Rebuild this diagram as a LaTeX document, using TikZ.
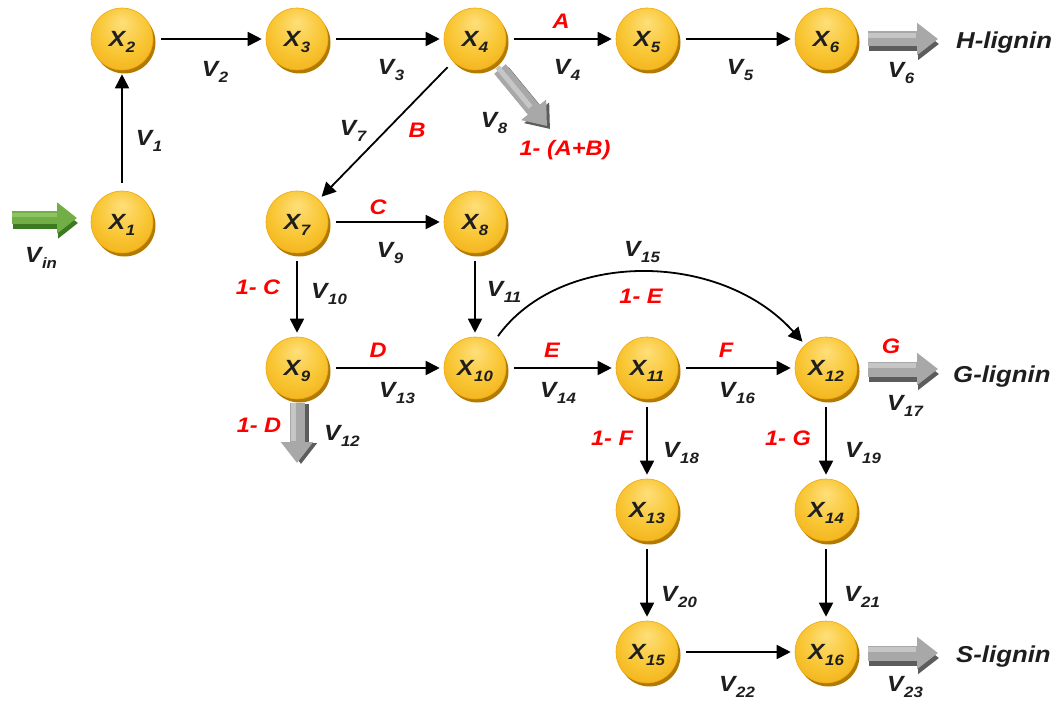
\documentclass[tikz,border=0pt]{standalone}
\usepackage{fontspec}
\usepackage{graphicx}
\setmainfont{Liberation Sans}
\usetikzlibrary{arrows.meta,backgrounds}
\definecolor{txt}{HTML}{1E1E1E}
\definecolor{redl}{HTML}{FF0000}
\definecolor{nlight}{HTML}{FEDF7A}
\definecolor{nmid}{HTML}{F9C634}
\definecolor{ndark}{HTML}{EEA80E}
\definecolor{nrim}{HTML}{B27A02}
\definecolor{glight}{HTML}{A8A8A8}
\definecolor{ghigh}{HTML}{C6C6C6}
\definecolor{gdark}{HTML}{5C5C5C}
\definecolor{grlight}{HTML}{72AE46}
\definecolor{grhigh}{HTML}{8CC461}
\definecolor{grdark}{HTML}{3C7A22}
\pgfdeclareradialshading{nodeball}{\pgfpoint{0bp}{14bp}}{color(0bp)=(nlight); color(20bp)=(nmid); color(40bp)=(ndark); color(50bp)=(ndark)}
\newcommand{\wide}[1]{\scalebox{1.12}[1]{#1}}
\newcommand{\Xl}[1]{\wide{\fontsize{22pt}{22pt}\selectfont X\kern0.5pt\raisebox{-6pt}[0pt][0pt]{\fontsize{15pt}{15pt}\selectfont #1}}}
\newcommand{\Vl}[1]{\wide{\fontsize{22pt}{22pt}\selectfont V\kern0.5pt\raisebox{-6pt}{\fontsize{15pt}{15pt}\selectfont #1}}}
\newcommand{\Rl}[1]{\wide{\fontsize{21pt}{21pt}\selectfont #1}}
\newcommand{\Ol}[1]{\wide{\fontsize{23pt}{23pt}\selectfont #1}}
\tikzset{
  met/.style={circle, minimum size=62pt, inner sep=0pt, shading=nodeball, draw=ndark, line width=0.6pt,
    text=txt, font=\bfseries\itshape},
  rim/.style={fill=nrim},
  conn/.style={draw=black, line width=1.8pt, -{Triangle[length=14pt,width=14pt]}, shorten <=8pt, shorten >=4pt},
  vlab/.style={text=txt, font=\bfseries\itshape, inner sep=0pt},
  rlab/.style={text=redl, font=\bfseries\itshape, inner sep=0pt},
  olab/.style={text=txt, font=\bfseries\itshape, inner sep=0pt, anchor=base west},
  fat/.style={line width=15pt, draw=glight, -{Triangle[length=21pt,width=31pt]}},
  fatshade/.style={line width=15pt, draw=gdark, -{Triangle[length=21pt,width=31pt]}},
  fathigh/.style={line width=5pt, draw=ghigh, shorten >=22pt},
  fatgreen/.style={line width=13pt, draw=grlight, -{Triangle[length=20pt,width=30pt]}},
  fatgreenshade/.style={line width=13pt, draw=grdark, -{Triangle[length=20pt,width=30pt]}},
}
\begin{document}
\begin{tikzpicture}[x=1pt,y=-1pt]
\useasboundingbox (0,0) rectangle (1059,703);
% nodes
\node[met] (X1) at (122,222) {\Xl{1}};
\node[met] (X2) at (122,39) {\Xl{2}};
\node[met] (X3) at (297,39) {\Xl{3}};
\node[met] (X4) at (475,39) {\Xl{4}};
\node[met] (X5) at (647,39) {\Xl{5}};
\node[met] (X6) at (826,39) {\Xl{6}};
\node[met] (X7) at (297,222) {\Xl{7}};
\node[met] (X8) at (475,222) {\Xl{8}};
\node[met] (X9) at (297,368) {\Xl{9}};
\node[met] (X10) at (475,368) {\Xl{10}};
\node[met] (X11) at (647,368) {\Xl{11}};
\node[met] (X12) at (826,368) {\Xl{12}};
\node[met] (X13) at (647,510) {\Xl{13}};
\node[met] (X14) at (826,510) {\Xl{14}};
\node[met] (X15) at (647,652) {\Xl{15}};
\node[met] (X16) at (826,652) {\Xl{16}};
\begin{pgfonlayer}{background}
\fill[white] (0,0) rectangle (1059,703);
\foreach \n in {X1,X2,X3,X4,X5,X6,X7,X8,X9,X10,X11,X12,X13,X14,X15,X16}
  \fill[rim] ([shift={(2.5,3.5)}]\n.center) circle[radius=31pt];
\end{pgfonlayer}
% thin connectors
\draw[conn] (X1) -- (X2);
\draw[conn] (X2) -- (X3);
\draw[conn] (X3) -- (X4);
\draw[conn] (X4) -- (X5);
\draw[conn] (X5) -- (X6);
\draw[conn] (X4) -- (X7);
\draw[conn] (X7) -- (X8);
\draw[conn] (X7) -- (X9);
\draw[conn] (X8) -- (X10);
\draw[conn] (X9) -- (X10);
\draw[conn] (X10) -- (X11);
\draw[conn] (X11) -- (X12);
\draw[conn] (X10) .. controls (560,250) and (720,250) .. (X12);
\draw[conn] (X11) -- (X13);
\draw[conn] (X12) -- (X14);
\draw[conn] (X13) -- (X15);
\draw[conn] (X14) -- (X16);
\draw[conn] (X15) -- (X16);
% fat arrows (free ends)
\coordinate (inS) at (12,218);   \coordinate (inE) at (77,218);
\coordinate (hS) at (868,39);    \coordinate (hE) at (938,39);
\coordinate (gS) at (868,369);   \coordinate (gE) at (938,369);
\coordinate (sS) at (868,653);   \coordinate (sE) at (938,653);
\coordinate (dS) at (297,403);   \coordinate (dE) at (297,463);
\coordinate (aS) at (500,69);    \coordinate (aE) at (547,126);
\draw[fatgreenshade, transform canvas={shift={(1pt,-5pt)}}] (inS) -- (inE);
\draw[fatgreen] (inS) -- (inE);
\draw[line width=4pt, draw=grhigh, shorten >=20pt, transform canvas={shift={(0pt,3pt)}}] (inS) -- (inE);
\foreach \s/\e in {hS/hE, gS/gE, sS/sE}{
  \draw[fatshade, transform canvas={shift={(1pt,-5pt)}}] (\s) -- (\e);
  \draw[fat] (\s) -- (\e);
  \draw[fathigh, transform canvas={shift={(0pt,3.5pt)}}] (\s) -- (\e);
}
\draw[fatshade, transform canvas={shift={(4pt,-1pt)}}] (dS) -- (dE);
\draw[fat] (dS) -- (dE);
\draw[fathigh, transform canvas={shift={(-3.5pt,0pt)}}] (dS) -- (dE);
\draw[fatshade, transform canvas={shift={(3pt,-3pt)}}] (aS) -- (aE);
\draw[fat] (aS) -- (aE);
\draw[fathigh, transform canvas={shift={(-2.5pt,2pt)}}] (aS) -- (aE);
% flux labels
\node[vlab] (lv1) at (149,141) {\Vl{1}};
\node[vlab] (lv2) at (215,72) {\Vl{2}};
\node[vlab] (lv3) at (391,70) {\Vl{3}};
\node[vlab] (lv4) at (567,70) {\Vl{4}};
\node[vlab] (lv5) at (740,70) {\Vl{5}};
\node[vlab] (lv6) at (901,73) {\Vl{6}};
\node[vlab] (lv7) at (353,131) {\Vl{7}};
\node[vlab] (lv8) at (494,123) {\Vl{8}};
\node[vlab] (lv9) at (390,253) {\Vl{9}};
\node[vlab] (lv10) at (329,294) {\Vl{10}};
\node[vlab] (lv11) at (504,292) {\Vl{11}};
\node[vlab] (lv12) at (342,436) {\Vl{12}};
\node[vlab] (lv13) at (397,393) {\Vl{13}};
\node[vlab] (lv14) at (558,393) {\Vl{14}};
\node[vlab] (lv15) at (642,252) {\Vl{15}};
\node[vlab] (lv16) at (737,393) {\Vl{16}};
\node[vlab] (lv17) at (905,406) {\Vl{17}};
\node[vlab] (lv18) at (681,453) {\Vl{18}};
\node[vlab] (lv19) at (863,453) {\Vl{19}};
\node[vlab] (lv20) at (679,597) {\Vl{20}};
\node[vlab] (lv21) at (862,597) {\Vl{21}};
\node[vlab] (lv22) at (737,687) {\Vl{22}};
\node[vlab] (lv23) at (905,687) {\Vl{23}};
\node[vlab] (lvin) at (41,258) {\Vl{in}};
% red fraction labels
\node[rlab] (rA) at (561,21) {\Rl{A}};
\node[rlab] (rB) at (417,130) {\Rl{B}};
\node[rlab] (rAB) at (565,150) {\Rl{1- (A+B)}};
\node[rlab] (rC) at (378,207) {\Rl{C}};
\node[rlab] (r1C) at (258,287) {\Rl{1- C}};
\node[rlab] (rD) at (378,350) {\Rl{D}};
\node[rlab] (r1D) at (259,425) {\Rl{1- D}};
\node[rlab] (rE) at (552,350) {\Rl{E}};
\node[rlab] (r1E) at (641,296) {\Rl{1- E}};
\node[rlab] (rF) at (726,350) {\Rl{F}};
\node[rlab] (r1F) at (612,438) {\Rl{1- F}};
\node[rlab] (rG) at (891,346) {\Rl{G}};
\node[rlab] (r1G) at (788,438) {\Rl{1- G}};
% outputs
\node[olab] (oH) at (956,49) {\Ol{H-lignin}};
\node[olab] (oG) at (953,382) {\Ol{G-lignin}};
\node[olab] (oS) at (956,662) {\Ol{S-lignin}};
\end{tikzpicture}
\end{document}
